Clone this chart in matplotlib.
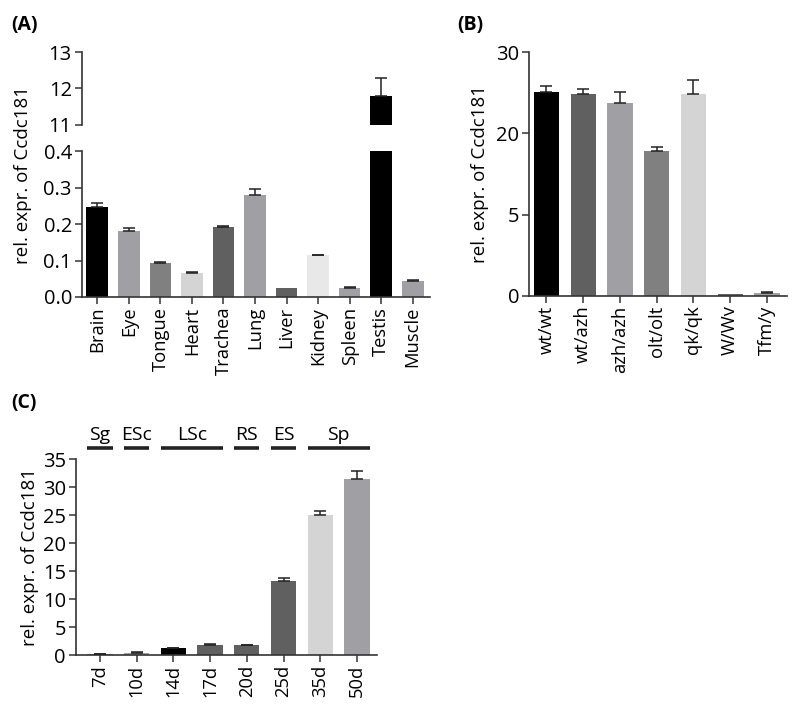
import matplotlib
import numpy as np

matplotlib.use("Agg")
import matplotlib.pyplot as plt

plt.rcParams["font.family"] = ["Open Sans", "DejaVu Sans"]

# (A) tissues
TISSUES = ["Brain", "Eye", "Tongue", "Heart", "Trachea", "Lung", "Liver",
           "Kidney", "Spleen", "Testis", "Muscle"]
TISSUE_EXPR = [0.248, 0.182, 0.093, 0.065, 0.191, 0.281, 0.025, 0.114, 0.025, 11.8, 0.044]
TISSUE_ERR = [0.009, 0.006, 0.004, 0.003, 0.005, 0.014, 0.0, 0.002, 0.002, 0.5, 0.002]
TISSUE_COLORS = ["#000000", "#a0a0a4", "#808080", "#d4d4d4", "#606060", "#a0a0a4",
                 "#606060", "#e8e8e8", "#a0a0a4", "#000000", "#a0a0a4"]

# (B) mutants
MUTANTS = ["wt/wt", "wt/azh", "azh/azh", "olt/olt", "qk/qk", "W/Wv", "Tfm/y"]
MUTANT_EXPR = [25.1, 24.9, 23.7, 16.7, 24.8, 0.12, 0.15]
MUTANT_ERR = [0.7, 0.5, 1.4, 0.7, 1.8, 0.0, 0.08]
MUTANT_COLORS = ["#000000", "#606060", "#a0a0a4", "#808080", "#d4d4d4", "#606060", "#a0a0a4"]
B_TICKS = [0, 5, 20, 30]

# (C) postnatal age
AGES = ["7d", "10d", "14d", "17d", "20d", "25d", "35d", "50d"]
AGE_EXPR = [0.2, 0.45, 1.25, 1.8, 1.75, 13.2, 25.0, 31.4]
AGE_ERR = [0.03, 0.1, 0.05, 0.1, 0.1, 0.5, 0.8, 1.45]
AGE_COLORS = ["#808080", "#a0a0a4", "#000000", "#606060", "#606060", "#606060",
              "#d4d4d4", "#a0a0a4"]
STAGE_NAMES = ["Sg", "ESc", "LSc", "RS", "ES", "Sp"]
STAGE_FIRST = [0, 1, 2, 4, 5, 6]
STAGE_LAST = [0, 1, 3, 4, 5, 7]

SPINE = "#333333"
W = 0.69
TICK_FS = 14.5
XT_FS = 13.2
LAB_FS = 13.5


def style(ax, bottom=True):
    for s in ("top", "right"):
        ax.spines[s].set_visible(False)
    for s in ("left", "bottom"):
        ax.spines[s].set_color(SPINE)
        ax.spines[s].set_linewidth(1.2)
    ax.spines["bottom"].set_visible(bottom)
    ax.tick_params(direction="out", length=5, width=1.1, color=SPINE,
                   labelsize=TICK_FS, pad=2)


def bars(ax, names, vals, errs, colors):
    x = np.arange(len(names))
    ax.bar(x, vals, width=W, color=colors, edgecolor="none", zorder=2)
    errs = np.asarray(errs)
    m = errs > 0
    ax.errorbar(x[m], np.asarray(vals)[m], yerr=[np.zeros(m.sum()), errs[m]],
                fmt="none", ecolor="#222222", elinewidth=1.1, capsize=4.5,
                capthick=1.1, zorder=3)
    return x


fig = plt.figure(figsize=(8, 7.13), dpi=100)

# ---- (A) broken axis
axt = fig.add_axes([0.102, 0.825, 0.4355, 0.102])
axb = fig.add_axes([0.102, 0.5835, 0.4355, 0.2045])
for ax in (axt, axb):
    bars(ax, TISSUES, TISSUE_EXPR, TISSUE_ERR, TISSUE_COLORS)
    ax.set_xlim(-0.5, 10.55)
style(axt, bottom=False)
style(axb)
axt.set_ylim(11, 13)
axt.set_yticks([11, 12, 13])
axt.set_yticks([11], minor=True)
axt.tick_params(axis="y", which="minor", direction="in", length=5, width=1.1, color=SPINE)
axt.set_xticks([])
axb.set_ylim(0, 0.4)
axb.set_yticks([0, 0.1, 0.2, 0.3, 0.4])
axb.set_yticks([0.4], minor=True)
axb.tick_params(axis="y", which="minor", direction="in", length=5, width=1.1, color=SPINE)
axb.set_yticklabels([f"{v:.1f}" for v in [0, 0.1, 0.2, 0.3, 0.4]])
axb.set_xticks(range(len(TISSUES)))
axb.set_xticklabels(TISSUES, rotation=90, fontsize=XT_FS)
fig.text(0.029, 0.755, "rel. expr. of Ccdc181", rotation=90, ha="center", va="center",
         fontsize=LAB_FS)
fig.text(0.014, 0.965, "(A)", fontsize=14, fontweight="bold", va="center")

# ---- (B) segmented axis
axB = fig.add_axes([0.661, 0.585, 0.323, 0.342])
seg = [0, 1, 2, 3]
axB.set_yscale("function", functions=(lambda v: np.interp(v, B_TICKS, seg),
                                      lambda v: np.interp(v, seg, B_TICKS)))
bars(axB, MUTANTS, MUTANT_EXPR, MUTANT_ERR, MUTANT_COLORS)
style(axB)
axB.set_ylim(0, 30)
axB.set_xlim(-0.48, 6.55)
axB.set_yticks(B_TICKS)
axB.set_yticklabels([str(t) for t in B_TICKS])
axB.set_xticks(range(len(MUTANTS)))
axB.set_xticklabels(MUTANTS, rotation=90, fontsize=XT_FS)
axB.set_ylabel("rel. expr. of Ccdc181", fontsize=LAB_FS, labelpad=5)
fig.text(0.572, 0.965, "(B)", fontsize=14, fontweight="bold", va="center")

# ---- (C) age series
axC = fig.add_axes([0.0946, 0.0813, 0.3764, 0.2747])
bars(axC, AGES, AGE_EXPR, AGE_ERR, AGE_COLORS)
style(axC)
axC.set_ylim(0, 35)
axC.set_xlim(-0.66, 7.54)
axC.set_yticks(range(0, 36, 5))
axC.set_xticks(range(len(AGES)))
axC.set_xticklabels(AGES, rotation=90, fontsize=XT_FS)
axC.set_ylabel("rel. expr. of Ccdc181", fontsize=LAB_FS, labelpad=3)
tr = axC.get_xaxis_transform()
for name, a, b in zip(STAGE_NAMES, STAGE_FIRST, STAGE_LAST):
    axC.plot([a - W / 2, b + W / 2], [1.059, 1.059], transform=tr, color="#222222",
             lw=2.6, solid_capstyle="butt", clip_on=False)
    axC.text((a + b) / 2, 1.08, name, transform=tr, ha="center", va="bottom",
             fontsize=14)
fig.text(0.014, 0.435, "(C)", fontsize=14, fontweight="bold", va="center")

fig.savefig("out.png", dpi=100)
